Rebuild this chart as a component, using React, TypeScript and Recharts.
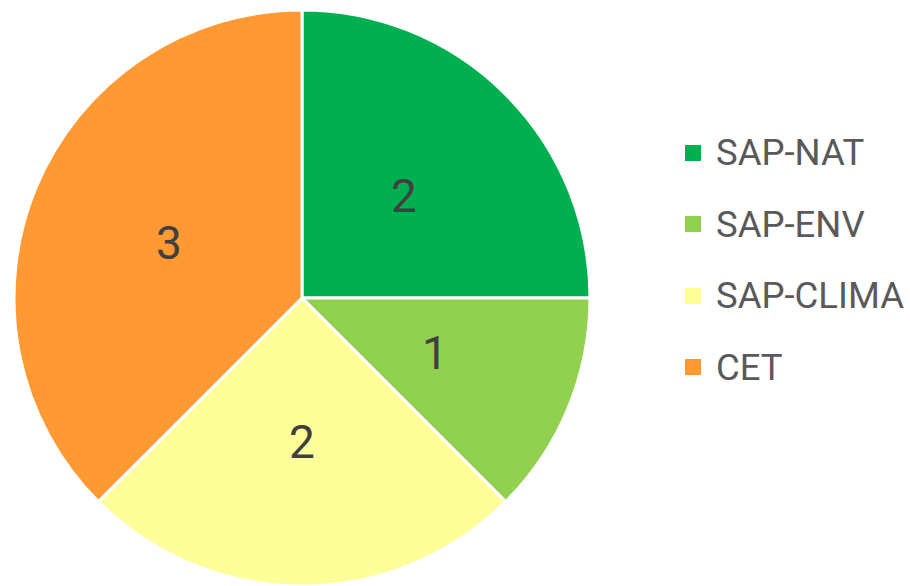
import { PieChart, Pie, Cell, Legend } from 'recharts';

const categories = ['SAP-NAT', 'SAP-ENV', 'SAP-CLIMA', 'CET'];
const counts = [2, 1, 2, 3];
const colors = ['#00B050', '#92D050', '#FFFF99', '#FF9933'];

const data = categories.map((name, i) => ({ name, value: counts[i] }));

const RADIAN = Math.PI / 180;
const FONT = 'Roboto, "Noto Sans", sans-serif';

function renderLabel(props: any) {
  const { cx, cy, midAngle, outerRadius, value } = props;
  const r = outerRadius * 0.5;
  const x = cx + r * Math.cos(-midAngle * RADIAN);
  const y = cy + r * Math.sin(-midAngle * RADIAN);
  return (
    <text
      x={x}
      y={y}
      fill="#404040"
      fontSize={46}
      fontFamily={FONT}
      textAnchor="middle"
      dominantBaseline="central"
    >
      {value}
    </text>
  );
}

function LegendList() {
  return (
    <div style={{ fontFamily: FONT }}>
      {categories.map((c, i) => (
        <div
          key={c}
          style={{ display: 'flex', alignItems: 'center', height: 71.5, color: '#595959', fontSize: 36.5 }}
        >
          <span
            style={{ width: 16, height: 16, background: colors[i], display: 'inline-block', marginRight: 15 }}
          />
          <span>{c}</span>
        </div>
      ))}
    </div>
  );
}

export default function App() {
  return (
    <div style={{ position: 'absolute', left: 0, top: 0, background: '#fff' }}>
      <PieChart width={910} height={586} margin={{ top: 0, right: 0, bottom: 0, left: 0 }}>
        <Pie
          data={data}
          dataKey="value"
          nameKey="name"
          cx={302}
          cy={298}
          outerRadius={288}
          startAngle={90}
          endAngle={-270}
          stroke="#ffffff"
          strokeWidth={3}
          label={renderLabel}
          labelLine={false}
          isAnimationActive={false}
        >
          {data.map((d, i) => (
            <Cell key={d.name} fill={colors[i]} />
          ))}
        </Pie>
        <Legend
          content={() => <LegendList />}
          wrapperStyle={{ position: 'absolute', left: 685, top: 117, width: 225 }}
        />
      </PieChart>
    </div>
  );
}
